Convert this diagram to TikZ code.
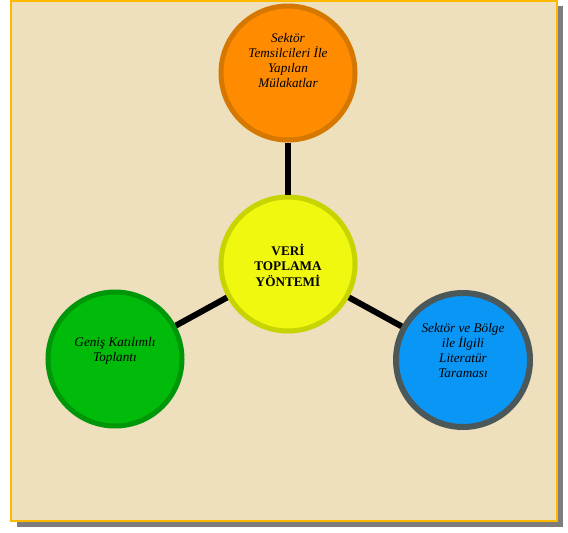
\documentclass[tikz,border=0pt]{standalone}
\usepackage{fontspec}
\setmainfont{Liberation Serif}
\definecolor{parch}{RGB}{238,224,188}
\definecolor{frame}{RGB}{255,184,0}
\definecolor{shadow}{RGB}{125,125,125}
\definecolor{orfill}{RGB}{255,140,0}
\definecolor{ordraw}{RGB}{214,120,0}
\definecolor{grfill}{RGB}{0,187,10}
\definecolor{grdraw}{RGB}{0,150,10}
\definecolor{blfill}{RGB}{10,150,245}
\definecolor{bldraw}{RGB}{75,88,90}
\definecolor{yefill}{RGB}{240,248,15}
\definecolor{yedraw}{RGB}{200,212,0}
\begin{document}
\begin{tikzpicture}[x=1pt,y=-1pt,
  bubble/.style={circle,minimum size=134pt,line width=5pt,inner sep=0pt},
  txt/.style={align=center,inner sep=0pt,font=\itshape\fontsize{13.2}{15}\selectfont},
  link/.style={line width=6pt,black}]
\useasboundingbox (0,0) rectangle (568,533);
\fill[white] (0,0) rectangle (568,533);
\fill[shadow] (17,6) rectangle (563,527);
\fill[parch] (11,1) rectangle (557,521);
\draw[line width=2.5pt,frame] (11,1) rectangle (557,521);
\node[bubble,fill=orfill,draw=ordraw] (top) at (288,73) {};
\node[bubble,fill=grfill,draw=grdraw] (left) at (115,359) {};
\node[bubble,line width=6pt,fill=blfill,draw=bldraw] (right) at (463,360) {};
\node[bubble,fill=yefill,draw=yedraw] (mid) at (288,264) {};
\draw[link] (mid) -- (top);
\draw[link] (mid) -- (left);
\draw[link] (mid) -- (right);
\node[txt] (topT) at (288,60) {Sektör\\Temsilcileri İle\\Yapılan\\Mülakatlar};
\node[txt] (leftT) at (115,351) {Geniş Katılımlı\\Toplantı};
\node[txt] (rightT) at (463,350) {Sektör ve Bölge\\ile İlgili\\Literatür\\Taraması};
\node[txt,font=\bfseries\fontsize{13.2}{15.5}\selectfont] (midT) at (288,265) {VERİ\\TOPLAMA\\YÖNTEMİ};
\end{tikzpicture}
\end{document}
